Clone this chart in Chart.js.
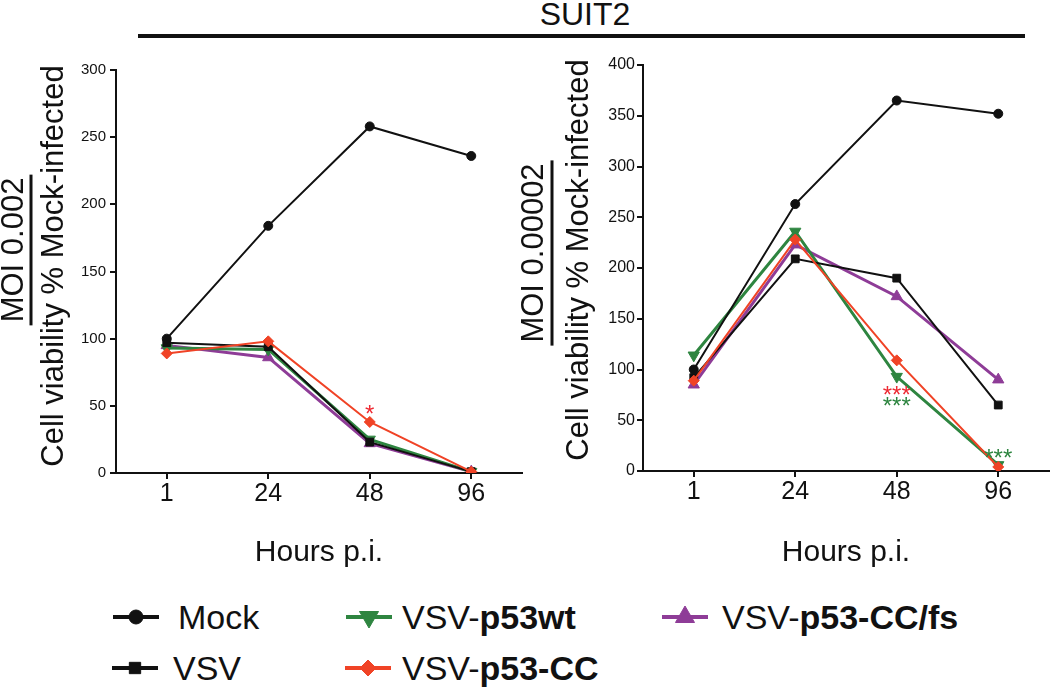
<!DOCTYPE html>
<html>
<head>
<meta charset="utf-8">
<script src="https://cdn.jsdelivr.net/npm/chart.js@4.4.1/dist/chart.umd.min.js"></script>
<style>
    body { margin: 0; background: #fff; width: 1050px; height: 690px; position: relative; overflow: hidden;
           font-family: "Liberation Sans", Arial, sans-serif; color: #111; }
    canvas.panel { position: absolute; top: 50px; }
    #leftChart { left: 0; }
    #rightChart { left: 500px; }
    #title { position: absolute; left: 485px; width: 200px; top: -2px; text-align: center; font-size: 32px; line-height: 32px; }
    #titleLine { position: absolute; left: 138px; width: 887px; top: 34px; height: 4px; background: #111; }
    .lgText { position: absolute; font-size: 34px; line-height: 34px; white-space: nowrap; }
    .lgMark { position: absolute; }
</style>
</head>
<body>
<div id="title">SUIT2</div>
<div id="titleLine"></div>
<canvas id="leftChart" class="panel" width="535" height="521"></canvas>
<canvas id="rightChart" class="panel" width="550" height="521"></canvas>
<div id="legend"></div>

<script>
// SUIT2 cell viability after VSV infection

var hours = ['1', '24', '48', '96'];
var seriesPlain = ['Mock', 'VSV', 'VSV-', 'VSV-', 'VSV-'];
var seriesBold = ['', '', 'p53wt', 'p53-CC', 'p53-CC/fs'];

// MOI 0.002
var moi002Mock = [100, 184, 258, 236];
var moi002Vsv = [97, 94, 23, 1];
var moi002Wt = [93, 92, 25, 1];
var moi002CC = [89, 98, 38, 1];
var moi002CCfs = [95, 86, 22, 1];
var moi002Ticks = [0, 50, 100, 150, 200, 250, 300];

// MOI 0.00002
var moi00002Mock = [100, 263, 365, 352];
var moi00002Vsv = [92, 209, 190, 65];
var moi00002Wt = [114, 236, 93, 6];
var moi00002CC = [89, 228, 109, 4];
var moi00002CCfs = [85, 223, 172, 90];
var moi00002Ticks = [0, 50, 100, 150, 200, 250, 300, 350, 400];

// significance marks
var moi002StarHour = ['48'];
var moi002StarValue = [48];
var moi002StarText = ['*'];
var moi002StarSeries = [3];
var moi00002StarHour = ['48', '48', '96'];
var moi00002StarValue = [81, 70, 19];
var moi00002StarText = ['***', '***', '***'];
var moi00002StarSeries = [3, 2, 2];

var seriesStyle = [
    { color: '#111111', pointStyle: 'circle', radius: 4.5, rotation: 0, width: 2 },
    { color: '#111111', pointStyle: 'rect', radius: 5.5, rotation: 0, width: 2 },
    { color: '#2e8540', pointStyle: 'triangle', radius: 6.5, rotation: 180, width: 3 },
    { color: '#f04326', pointStyle: 'rectRot', radius: 5.5, rotation: 0, width: 2 },
    { color: '#8e3c97', pointStyle: 'triangle', radius: 6.5, rotation: 0, width: 3 }
];
var starColors = { 2: '#2e8540', 3: '#ee2a33' };

var FONT = '"Liberation Sans", Arial, sans-serif';
Chart.defaults.font.family = FONT;
Chart.defaults.color = '#111';

var panelLabels = {
    id: 'panelLabels',
    afterDraw: function (chart, args, opts) {
        var ctx = chart.ctx;
        ctx.save();
        ctx.fillStyle = '#111';
        ctx.font = opts.fontSize + 'px ' + FONT;
        ctx.textAlign = 'center';
        ctx.textBaseline = 'alphabetic';
        drawRotated(ctx, opts.moi, opts.moiX, opts.moiY);
        var w = ctx.measureText(opts.moi).width + 6;
        ctx.fillRect(opts.barX - 1.5, opts.moiY - w / 2, 3, w);
        drawRotated(ctx, opts.label, opts.labelX, opts.labelY);

        ctx.font = opts.starSize + 'px ' + FONT;
        for (var i = 0; i < opts.starHour.length; i++) {
            var x = chart.scales.x.getPixelForValue(hours.indexOf(opts.starHour[i]));
            var y = chart.scales.y.getPixelForValue(opts.starValue[i]);
            ctx.fillStyle = starColors[opts.starSeries[i]];
            ctx.fillText(opts.starText[i], x, y + 0.58 * opts.starSize);
        }
        ctx.restore();
    }
};

function drawRotated(ctx, text, x, y) {
    ctx.save();
    ctx.translate(x, y);
    ctx.rotate(-Math.PI / 2);
    ctx.fillText(text, 0, 0);
    ctx.restore();
}

function makeDatasets(valueLists) {
    return valueLists.map(function (values, i) {
        var s = seriesStyle[i];
        return {
            label: seriesPlain[i] + seriesBold[i],
            data: values,
            borderColor: s.color,
            backgroundColor: s.color,
            borderWidth: s.width,
            tension: 0,
            pointStyle: s.pointStyle,
            pointRotation: s.rotation,
            pointRadius: s.radius,
            pointBackgroundColor: s.color,
            pointBorderColor: s.color,
            pointBorderWidth: 1,
            order: i === 3 ? 0 : 1
        };
    });
}

function initPanel(canvasId, valueLists, ticks, yWidth, xHeight, padding, tickFont, tickPad, labels) {
    var ctx = document.getElementById(canvasId).getContext('2d');
    return new Chart(ctx, {
        type: 'line',
        data: { labels: hours, datasets: makeDatasets(valueLists) },
        plugins: [panelLabels],
        options: {
            responsive: false,
            animation: false,
            devicePixelRatio: 1,
            layout: { padding: padding, autoPadding: false },
            plugins: {
                legend: { display: false },
                tooltip: { enabled: false },
                panelLabels: labels
            },
            scales: {
                x: {
                    type: 'category',
                    offset: true,
                    afterFit: function (scale) {
                        scale.height = xHeight;
                        scale.paddingLeft = 0;
                        scale.paddingRight = 0;
                    },
                    border: { display: true, color: '#111', width: 2 },
                    grid: { display: true, drawOnChartArea: false, tickLength: 6, color: '#111', lineWidth: 2 },
                    ticks: { font: { size: 25 }, color: '#111', padding: 0, maxRotation: 0 },
                    title: { display: true, text: 'Hours p.i.', font: { size: 30 }, color: '#111', padding: 0 }
                },
                y: {
                    min: ticks[0],
                    max: ticks[ticks.length - 1],
                    afterFit: function (scale) { scale.width = yWidth; },
                    afterBuildTicks: function (scale) {
                        scale.ticks = ticks.map(function (v) { return { value: v }; });
                    },
                    border: { display: true, color: '#111', width: 2 },
                    grid: { display: true, drawOnChartArea: false, tickLength: 6, color: '#111', lineWidth: 2 },
                    ticks: { font: { size: tickFont }, color: '#111', padding: tickPad }
                }
            }
        }
    });
}

initPanel('leftChart',
    [moi002Mock, moi002Vsv, moi002Wt, moi002CC, moi002CCfs],
    moi002Ticks, 116, 98, { top: 20, right: 13, left: 0, bottom: 0 }, 15, 4,
    {
        fontSize: 31, moi: 'MOI 0.002', moiX: 23, moiY: 200, barX: 31,
        label: 'Cell viability % Mock-infected', labelX: 63, labelY: 216,
        starSize: 24, starHour: moi002StarHour, starValue: moi002StarValue,
        starText: moi002StarText, starSeries: moi002StarSeries
    });

initPanel('rightChart',
    [moi00002Mock, moi00002Vsv, moi00002Wt, moi00002CC, moi00002CCfs],
    moi00002Ticks, 143, 100, { top: 15, right: 1, left: 0, bottom: 0 }, 16, 2,
    {
        fontSize: 31, moi: 'MOI 0.00002', moiX: 43, moiY: 203, barX: 52,
        label: 'Cell viability % Mock-infected', labelX: 88, labelY: 210,
        starSize: 24, starHour: moi00002StarHour, starValue: moi00002StarValue,
        starText: moi00002StarText, starSeries: moi00002StarSeries
    });

// legend
var legendPos = [
    { line: 113, text: 178, row: 0 },
    { line: 112, text: 173, row: 1 },
    { line: 346, text: 402, row: 0 },
    { line: 345, text: 402, row: 1 },
    { line: 662, text: 722, row: 0 }
];
var legendRows = [617, 668];
var legendMarker = [7, 8, 11, 8, 11];

function buildLegend() {
    var box = document.getElementById('legend');
    legendPos.forEach(function (p, i) {
        var s = seriesStyle[i];
        var cy = legendRows[p.row];
        var c = document.createElement('canvas');
        c.className = 'lgMark';
        c.width = 46; c.height = 30;
        c.style.left = p.line + 'px';
        c.style.top = (cy - 15) + 'px';
        box.appendChild(c);
        var ctx = c.getContext('2d');
        ctx.fillStyle = s.color;
        ctx.strokeStyle = s.color;
        ctx.fillRect(0, 13, 46, 4);
        if (Chart.helpers && Chart.helpers.drawPoint) {
            Chart.helpers.drawPoint(ctx, { pointStyle: s.pointStyle, rotation: s.rotation, radius: legendMarker[i], borderWidth: 1 }, 23, 15);
        } else {
            ctx.beginPath(); ctx.arc(23, 15, legendMarker[i], 0, Math.PI * 2); ctx.fill();
        }
        var t = document.createElement('div');
        t.className = 'lgText';
        t.style.left = p.text + 'px';
        t.style.top = (cy - 17) + 'px';
        t.appendChild(document.createTextNode(seriesPlain[i]));
        if (seriesBold[i]) {
            var b = document.createElement('b');
            b.textContent = seriesBold[i];
            t.appendChild(b);
        }
        box.appendChild(t);
    });
}
buildLegend();
</script>
</body>
</html>
